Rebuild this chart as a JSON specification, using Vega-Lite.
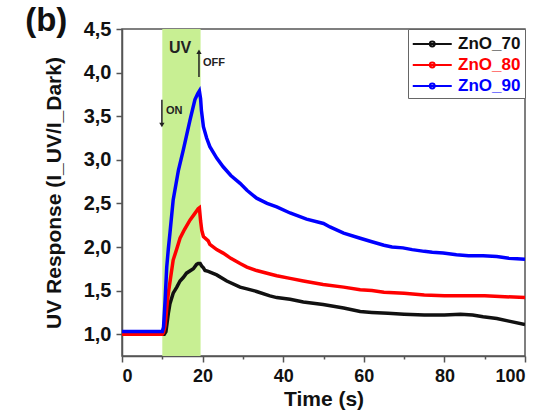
{
  "$schema": "https://vega.github.io/schema/vega-lite/v6.json",
  "width": 403,
  "height": 327,
  "padding": {"left": 25, "top": 5, "right": 5, "bottom": 3},
  "background": "white",
  "config": {
    "font": "Liberation Sans",
    "locale": {"number": {"decimal": ",", "thousands": ".", "grouping": [3], "currency": ["", " €"]}},
    "view": {"stroke": "#555555", "strokeWidth": 1.5},
    "axis": {"domainColor": "#555555", "domainWidth": 1.5, "tickColor": "#555555", "tickWidth": 1.5, "grid": false, "labelFont": "Liberation Sans", "titleFont": "Liberation Sans", "labelColor": "#111111", "titleColor": "#111111", "labelOverlap": false}
  },
  "title": {"text": "(b)", "anchor": "start", "frame": "bounds", "fontSize": 33, "fontWeight": "bold", "font": "Liberation Sans", "color": "#111111", "offset": -19, "dx": -18},
  "datasets": {
    "band": [{"t": 10, "t2": 19.5}],
    "curves": [
      {"series": "ZnO_70", "t": 0, "r": 1.0}, {"series": "ZnO_70", "t": 5, "r": 1.0}, {"series": "ZnO_70", "t": 10, "r": 1.0}, {"series": "ZnO_70", "t": 10.5, "r": 1.0}, {"series": "ZnO_70", "t": 10.9, "r": 1.03}, {"series": "ZnO_70", "t": 11.5, "r": 1.24}, {"series": "ZnO_70", "t": 11.9, "r": 1.35}, {"series": "ZnO_70", "t": 12.7, "r": 1.47}, {"series": "ZnO_70", "t": 13.6, "r": 1.54}, {"series": "ZnO_70", "t": 14.4, "r": 1.61}, {"series": "ZnO_70", "t": 15.2, "r": 1.65}, {"series": "ZnO_70", "t": 16, "r": 1.7}, {"series": "ZnO_70", "t": 17.7, "r": 1.75}, {"series": "ZnO_70", "t": 18.5, "r": 1.8}, {"series": "ZnO_70", "t": 18.9, "r": 1.81}, {"series": "ZnO_70", "t": 19.4, "r": 1.81}, {"series": "ZnO_70", "t": 19.8, "r": 1.78}, {"series": "ZnO_70", "t": 20.2, "r": 1.76}, {"series": "ZnO_70", "t": 20.6, "r": 1.73}, {"series": "ZnO_70", "t": 21.4, "r": 1.72}, {"series": "ZnO_70", "t": 23.5, "r": 1.68}, {"series": "ZnO_70", "t": 26, "r": 1.61}, {"series": "ZnO_70", "t": 29.3, "r": 1.54}, {"series": "ZnO_70", "t": 31, "r": 1.52}, {"series": "ZnO_70", "t": 33.4, "r": 1.49}, {"series": "ZnO_70", "t": 36.7, "r": 1.44}, {"series": "ZnO_70", "t": 38.4, "r": 1.42}, {"series": "ZnO_70", "t": 41.7, "r": 1.4}, {"series": "ZnO_70", "t": 45, "r": 1.37}, {"series": "ZnO_70", "t": 49.9, "r": 1.34}, {"series": "ZnO_70", "t": 55, "r": 1.3}, {"series": "ZnO_70", "t": 59.1, "r": 1.26}, {"series": "ZnO_70", "t": 62, "r": 1.25}, {"series": "ZnO_70", "t": 66, "r": 1.24}, {"series": "ZnO_70", "t": 70, "r": 1.23}, {"series": "ZnO_70", "t": 75, "r": 1.22}, {"series": "ZnO_70", "t": 80, "r": 1.22}, {"series": "ZnO_70", "t": 84, "r": 1.23}, {"series": "ZnO_70", "t": 87, "r": 1.22}, {"series": "ZnO_70", "t": 89.6, "r": 1.2}, {"series": "ZnO_70", "t": 93, "r": 1.18}, {"series": "ZnO_70", "t": 96, "r": 1.15}, {"series": "ZnO_70", "t": 100, "r": 1.11},
      {"series": "ZnO_80", "t": 0, "r": 1.0}, {"series": "ZnO_80", "t": 5, "r": 1.0}, {"series": "ZnO_80", "t": 10, "r": 1.0}, {"series": "ZnO_80", "t": 10.3, "r": 1.02}, {"series": "ZnO_80", "t": 10.7, "r": 1.1}, {"series": "ZnO_80", "t": 11.1, "r": 1.3}, {"series": "ZnO_80", "t": 11.5, "r": 1.47}, {"series": "ZnO_80", "t": 12, "r": 1.63}, {"series": "ZnO_80", "t": 12.7, "r": 1.85}, {"series": "ZnO_80", "t": 13.6, "r": 1.98}, {"series": "ZnO_80", "t": 14.4, "r": 2.1}, {"series": "ZnO_80", "t": 15.5, "r": 2.2}, {"series": "ZnO_80", "t": 16.9, "r": 2.31}, {"series": "ZnO_80", "t": 18, "r": 2.38}, {"series": "ZnO_80", "t": 18.9, "r": 2.44}, {"series": "ZnO_80", "t": 19.2, "r": 2.45}, {"series": "ZnO_80", "t": 19.5, "r": 2.3}, {"series": "ZnO_80", "t": 19.8, "r": 2.19}, {"series": "ZnO_80", "t": 20.2, "r": 2.12}, {"series": "ZnO_80", "t": 21.4, "r": 2.07}, {"series": "ZnO_80", "t": 21.8, "r": 2.03}, {"series": "ZnO_80", "t": 23.5, "r": 1.97}, {"series": "ZnO_80", "t": 25.1, "r": 1.93}, {"series": "ZnO_80", "t": 27, "r": 1.87}, {"series": "ZnO_80", "t": 29.3, "r": 1.81}, {"series": "ZnO_80", "t": 31, "r": 1.77}, {"series": "ZnO_80", "t": 33.4, "r": 1.73}, {"series": "ZnO_80", "t": 36.7, "r": 1.69}, {"series": "ZnO_80", "t": 38.4, "r": 1.67}, {"series": "ZnO_80", "t": 41.7, "r": 1.64}, {"series": "ZnO_80", "t": 45, "r": 1.61}, {"series": "ZnO_80", "t": 49.9, "r": 1.57}, {"series": "ZnO_80", "t": 55, "r": 1.54}, {"series": "ZnO_80", "t": 59.1, "r": 1.51}, {"series": "ZnO_80", "t": 62, "r": 1.5}, {"series": "ZnO_80", "t": 65, "r": 1.48}, {"series": "ZnO_80", "t": 70, "r": 1.47}, {"series": "ZnO_80", "t": 75, "r": 1.45}, {"series": "ZnO_80", "t": 80, "r": 1.44}, {"series": "ZnO_80", "t": 85, "r": 1.44}, {"series": "ZnO_80", "t": 90, "r": 1.44}, {"series": "ZnO_80", "t": 95, "r": 1.43}, {"series": "ZnO_80", "t": 100, "r": 1.42},
      {"series": "ZnO_90", "t": 0, "r": 1.03}, {"series": "ZnO_90", "t": 5, "r": 1.03}, {"series": "ZnO_90", "t": 10, "r": 1.03}, {"series": "ZnO_90", "t": 10.3, "r": 1.08}, {"series": "ZnO_90", "t": 10.7, "r": 1.39}, {"series": "ZnO_90", "t": 11.1, "r": 1.77}, {"series": "ZnO_90", "t": 11.5, "r": 1.98}, {"series": "ZnO_90", "t": 11.9, "r": 2.16}, {"series": "ZnO_90", "t": 12.7, "r": 2.54}, {"series": "ZnO_90", "t": 14, "r": 2.88}, {"series": "ZnO_90", "t": 15.2, "r": 3.11}, {"series": "ZnO_90", "t": 16.9, "r": 3.46}, {"series": "ZnO_90", "t": 18.1, "r": 3.69}, {"series": "ZnO_90", "t": 18.8, "r": 3.76}, {"series": "ZnO_90", "t": 19.2, "r": 3.79}, {"series": "ZnO_90", "t": 19.5, "r": 3.7}, {"series": "ZnO_90", "t": 19.7, "r": 3.57}, {"series": "ZnO_90", "t": 20.2, "r": 3.38}, {"series": "ZnO_90", "t": 21, "r": 3.25}, {"series": "ZnO_90", "t": 21.8, "r": 3.15}, {"series": "ZnO_90", "t": 23.5, "r": 3.02}, {"series": "ZnO_90", "t": 25.1, "r": 2.92}, {"series": "ZnO_90", "t": 27, "r": 2.82}, {"series": "ZnO_90", "t": 29.3, "r": 2.73}, {"series": "ZnO_90", "t": 31, "r": 2.65}, {"series": "ZnO_90", "t": 33.4, "r": 2.56}, {"series": "ZnO_90", "t": 36, "r": 2.5}, {"series": "ZnO_90", "t": 38.4, "r": 2.46}, {"series": "ZnO_90", "t": 41.7, "r": 2.39}, {"series": "ZnO_90", "t": 45.8, "r": 2.32}, {"series": "ZnO_90", "t": 50, "r": 2.27}, {"series": "ZnO_90", "t": 51.6, "r": 2.23}, {"series": "ZnO_90", "t": 55, "r": 2.16}, {"series": "ZnO_90", "t": 59.1, "r": 2.1}, {"series": "ZnO_90", "t": 62, "r": 2.06}, {"series": "ZnO_90", "t": 65, "r": 2.02}, {"series": "ZnO_90", "t": 67, "r": 2.0}, {"series": "ZnO_90", "t": 69.7, "r": 1.99}, {"series": "ZnO_90", "t": 72, "r": 1.97}, {"series": "ZnO_90", "t": 75, "r": 1.95}, {"series": "ZnO_90", "t": 77, "r": 1.94}, {"series": "ZnO_90", "t": 79.7, "r": 1.93}, {"series": "ZnO_90", "t": 83, "r": 1.91}, {"series": "ZnO_90", "t": 86, "r": 1.9}, {"series": "ZnO_90", "t": 89.6, "r": 1.9}, {"series": "ZnO_90", "t": 93, "r": 1.89}, {"series": "ZnO_90", "t": 96, "r": 1.87}, {"series": "ZnO_90", "t": 100, "r": 1.86}
    ],
    "uvlabel": [{"t": 14.4, "r": 4.28, "label": "UV"}],
    "smalllabels": [{"t": 10.9, "r": 3.56, "label": "ON"}, {"t": 20.1, "r": 4.11, "label": "OFF"}],
    "arrows": [{"t": 9.9, "r": 3.69, "r2": 3.4, "head": "down"}, {"t": 19.1, "r": 3.95, "r2": 4.24, "head": "up"}]
  },
  "layer": [
    {
      "data": {"name": "band"},
      "mark": {"type": "rect", "color": "#c8ef93"},
      "encoding": {
        "x": {"field": "t", "type": "quantitative", "scale": {"domain": [0, 100], "nice": false, "zero": false}},
        "x2": {"field": "t2"}
      }
    },
    {
      "data": {"name": "curves"},
      "mark": {"type": "line", "strokeWidth": 3.5, "interpolate": "linear", "clip": true},
      "encoding": {
        "x": {
          "field": "t", "type": "quantitative",
          "scale": {"domain": [0, 100], "nice": false, "zero": false},
          "axis": {
            "title": "Time (s)", "titleFontSize": 21, "titleFontWeight": "bold", "titlePadding": 3,
            "values": [0, 10, 20, 30, 40, 50, 60, 70, 80, 90, 100],
            "format": "d",
            "labelExpr": "datum.value % 20 == 0 ? datum.label : ''",
            "labelFontSize": 18, "labelFontWeight": "bold", "labelPadding": 5,
            "tickSize": {"condition": {"test": "datum.value % 20 == 0", "value": 6}, "value": 3}
          }
        },
        "y": {
          "field": "r", "type": "quantitative",
          "scale": {"domain": [0.75, 4.5], "nice": false, "zero": false},
          "axis": {
            "title": "UV Response (I_UV/I_Dark)", "titleFontSize": 21, "titleFontWeight": "bold", "titlePadding": 19,
            "values": [1, 1.5, 2, 2.5, 3, 3.5, 4, 4.5],
            "format": ".1f",
            "labelFontSize": 20, "labelFontWeight": "bold", "labelPadding": 5,
            "tickSize": 6
          }
        },
        "color": {
          "field": "series", "type": "nominal",
          "scale": {"domain": ["ZnO_70", "ZnO_80", "ZnO_90"], "range": ["#111111", "#ff0000", "#0000ff"]},
          "legend": {
            "title": null, "orient": "top-right", "offset": 0,
            "strokeColor": "#666666", "fillColor": "white", "padding": 4,
            "labelFontSize": 17, "labelFontWeight": "bold", "labelFont": "Liberation Sans",
            "symbolType": "M-3,0L1,0M-1.25,0A0.25,0.25 0 1,0 -0.75,0A0.25,0.25 0 1,0 -1.25,0",
            "symbolSize": 380, "symbolStrokeWidth": 2, "rowPadding": 2, "labelOffset": 24,
            "encode": {"labels": {"update": {"fill": {"scale": "color", "field": "value"}}}, "symbols": {"update": {"xc": {"value": 30}}}}
          }
        }
      }
    },
    {
      "data": {"name": "arrows"},
      "mark": {"type": "rule", "color": "#222222", "strokeWidth": 1.5},
      "encoding": {
        "x": {"field": "t", "type": "quantitative"},
        "y": {"field": "r", "type": "quantitative"},
        "y2": {"field": "r2"}
      }
    },
    {
      "data": {"name": "arrows"},
      "mark": {"type": "point", "filled": true, "color": "#222222", "size": 28, "opacity": 1},
      "encoding": {
        "x": {"field": "t", "type": "quantitative"},
        "y": {"field": "r2", "type": "quantitative"},
        "shape": {"field": "head", "type": "nominal", "scale": {"domain": ["down", "up"], "range": ["triangle-down", "triangle-up"]}, "legend": null}
      }
    },
    {
      "data": {"name": "uvlabel"},
      "mark": {"type": "text", "fontSize": 16, "fontWeight": "bold", "font": "Liberation Sans", "color": "#222222", "align": "center", "baseline": "middle"},
      "encoding": {
        "x": {"field": "t", "type": "quantitative"},
        "y": {"field": "r", "type": "quantitative"},
        "text": {"field": "label"}
      }
    },
    {
      "data": {"name": "smalllabels"},
      "mark": {"type": "text", "fontSize": 11, "fontWeight": "bold", "font": "Liberation Sans", "color": "#222222", "align": "left", "baseline": "middle"},
      "encoding": {
        "x": {"field": "t", "type": "quantitative"},
        "y": {"field": "r", "type": "quantitative"},
        "text": {"field": "label"}
      }
    }
  ]
}
